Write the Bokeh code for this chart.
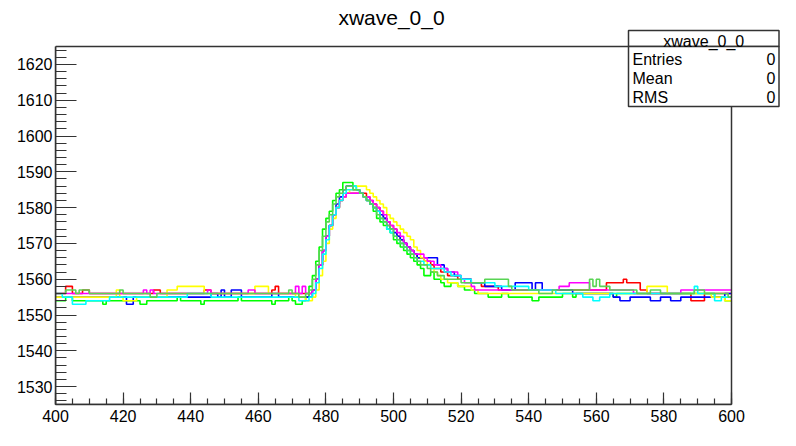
from bokeh.plotting import figure
from bokeh.models import Range1d, SingleIntervalTicker, Label, BoxAnnotation
from bokeh.embed import file_html
from bokeh.resources import INLINE

# ---- data: one value per 1-unit bin, bins start at 400 ... 599 ----
x_start = 400
x_end = 600
y_low = 1525
y_high = 1625

red = [
    1556,1556,1556,1558,1558,1556,1556,1556,1557,1557,
    1556,1556,1556,1556,1556,1556,1556,1556,1556,1556,
    1556,1556,1556,1556,1556,1556,1556,1556,1556,1557,
    1557,1556,1556,1556,1556,1556,1556,1556,1556,1556,
    1556,1556,1556,1556,1557,1557,1556,1556,1556,1556,
    1556,1556,1556,1556,1556,1556,1556,1556,1556,1556,
    1556,1556,1556,1556,1557,1558,1556,1556,1556,1556,
    1556,1556,1556,1556,1556,1556,1557,1560,1564,1568,
    1572,1575,1578,1580,1582,1583,1584,1584,1584,1584,
    1584,1584,1583,1582,1581,1580,1579,1577,1576,1575,
    1574,1572,1571,1570,1569,1568,1567,1566,1566,1565,
    1565,1564,1563,1563,1562,1562,1561,1561,1561,1560,
    1560,1560,1560,1559,1559,1559,1558,1558,1558,1558,
    1558,1557,1557,1557,1557,1557,1557,1557,1557,1557,
    1557,1557,1557,1557,1557,1557,1557,1557,1557,1557,
    1557,1557,1557,1557,1557,1557,1557,1557,1557,1557,
    1557,1557,1557,1559,1559,1559,1559,1559,1560,1559,
    1559,1559,1559,1557,1557,1556,1556,1556,1556,1556,
    1556,1556,1556,1556,1556,1556,1556,1556,1554,1554,
    1554,1554,1556,1556,1556,1556,1556,1556,1556,1556,
]

green = [
    1554,1554,1554,1555,1555,1554,1554,1554,1554,1554,
    1554,1554,1554,1554,1553,1554,1554,1554,1554,1554,
    1554,1554,1554,1554,1554,1553,1553,1554,1554,1554,
    1554,1554,1554,1554,1554,1554,1555,1554,1554,1554,
    1554,1554,1554,1553,1554,1554,1554,1554,1554,1554,
    1554,1554,1554,1554,1555,1554,1554,1554,1554,1554,
    1554,1554,1554,1554,1553,1554,1554,1554,1554,1555,
    1554,1553,1553,1554,1555,1558,1561,1565,1569,1574,
    1577,1579,1582,1584,1585,1587,1587,1587,1586,1585,
    1584,1583,1582,1581,1579,1577,1576,1575,1574,1573,
    1571,1570,1569,1568,1567,1566,1565,1564,1563,1561,
    1561,1562,1560,1560,1559,1558,1558,1559,1559,1558,
    1558,1557,1557,1557,1556,1556,1556,1556,1555,1555,
    1555,1555,1556,1556,1555,1555,1555,1555,1555,1555,
    1555,1554,1554,1555,1555,1555,1555,1555,1555,1555,
    1556,1556,1556,1555,1556,1556,1556,1556,1556,1556,
    1556,1556,1556,1556,1556,1555,1556,1556,1556,1556,
    1556,1556,1556,1556,1556,1556,1556,1556,1556,1556,
    1556,1556,1556,1556,1556,1556,1556,1556,1556,1556,
    1556,1556,1556,1556,1556,1555,1555,1555,1554,1554,
]

blue = [
    1555,1555,1555,1555,1555,1555,1555,1555,1555,1555,
    1555,1555,1555,1555,1555,1555,1555,1555,1555,1555,
    1555,1553,1553,1555,1555,1555,1555,1555,1555,1555,
    1555,1555,1555,1555,1555,1555,1555,1555,1555,1555,
    1555,1555,1555,1555,1555,1555,1556,1556,1555,1557,
    1555,1555,1557,1557,1557,1555,1555,1555,1555,1555,
    1555,1555,1555,1555,1556,1556,1555,1555,1555,1555,
    1555,1555,1555,1555,1555,1555,1557,1560,1564,1568,
    1572,1575,1578,1581,1583,1585,1586,1586,1585,1585,
    1584,1583,1582,1581,1580,1579,1578,1577,1575,1574,
    1573,1572,1571,1570,1569,1568,1567,1566,1566,1566,
    1566,1566,1566,1564,1564,1563,1562,1562,1561,1561,
    1560,1560,1560,1559,1559,1559,1559,1558,1558,1558,
    1558,1558,1557,1557,1557,1557,1559,1559,1559,1559,
    1559,1557,1559,1559,1557,1557,1557,1557,1557,1557,
    1557,1557,1557,1556,1556,1556,1556,1556,1556,1556,
    1556,1556,1556,1556,1556,1555,1555,1554,1554,1554,
    1555,1555,1555,1555,1555,1555,1554,1554,1554,1555,
    1555,1555,1554,1554,1554,1555,1555,1555,1555,1555,
    1555,1555,1555,1555,1555,1555,1555,1555,1556,1556,
]

yellow = [
    1555,1555,1555,1555,1555,1555,1555,1555,1555,1555,
    1555,1555,1555,1555,1555,1555,1555,1555,1557,1555,
    1554,1554,1554,1554,1555,1555,1555,1555,1555,1555,
    1555,1555,1555,1557,1557,1557,1558,1558,1558,1558,
    1558,1558,1558,1558,1556,1556,1556,1556,1556,1556,
    1556,1556,1556,1556,1556,1556,1556,1556,1556,1558,
    1558,1558,1558,1556,1556,1556,1556,1556,1556,1556,
    1556,1555,1555,1555,1554,1554,1555,1557,1561,1565,
    1570,1574,1577,1580,1582,1583,1584,1585,1585,1586,
    1586,1586,1585,1584,1583,1582,1581,1580,1578,1577,
    1576,1575,1574,1573,1572,1571,1569,1568,1566,1565,
    1564,1563,1562,1561,1560,1560,1559,1559,1559,1558,
    1558,1558,1558,1557,1557,1556,1556,1556,1556,1556,
    1556,1556,1556,1556,1556,1556,1556,1556,1556,1556,
    1556,1556,1556,1556,1556,1556,1556,1556,1556,1556,
    1556,1556,1556,1556,1556,1556,1556,1556,1556,1556,
    1556,1556,1556,1556,1556,1556,1556,1556,1556,1556,
    1556,1556,1556,1556,1556,1558,1558,1558,1558,1558,
    1558,1556,1556,1556,1556,1556,1556,1556,1556,1556,
    1556,1556,1556,1556,1555,1555,1555,1555,1554,1554,
]

magenta = [
    1556,1556,1556,1556,1556,1556,1556,1556,1556,1556,
    1556,1556,1556,1556,1556,1556,1556,1556,1556,1556,
    1556,1556,1556,1556,1556,1556,1557,1556,1557,1556,
    1556,1556,1556,1556,1556,1556,1556,1556,1556,1556,
    1556,1556,1556,1556,1556,1557,1556,1556,1556,1556,
    1556,1556,1556,1556,1556,1556,1556,1557,1557,1556,
    1556,1556,1556,1556,1556,1556,1556,1556,1556,1556,
    1556,1558,1556,1558,1556,1556,1557,1560,1564,1568,
    1572,1575,1578,1580,1582,1583,1584,1584,1584,1584,
    1584,1583,1583,1582,1581,1580,1579,1578,1576,1575,
    1574,1573,1572,1570,1569,1568,1567,1567,1567,1566,
    1565,1565,1564,1564,1563,1563,1562,1562,1562,1561,
    1560,1559,1559,1558,1557,1557,1557,1557,1557,1557,
    1557,1557,1557,1557,1557,1557,1557,1557,1557,1557,
    1557,1557,1557,1557,1557,1557,1557,1557,1557,1558,
    1558,1558,1559,1559,1559,1559,1559,1559,1557,1557,
    1557,1557,1557,1557,1557,1557,1557,1557,1557,1557,
    1557,1556,1556,1556,1556,1556,1556,1556,1556,1556,
    1556,1556,1556,1556,1556,1557,1557,1557,1557,1557,
    1557,1557,1557,1557,1557,1557,1557,1557,1557,1557,
]

cyan = [
    1556,1556,1555,1555,1555,1553,1553,1553,1553,1554,
    1554,1554,1554,1554,1554,1554,1555,1555,1555,1555,
    1555,1555,1555,1555,1555,1555,1555,1555,1555,1555,
    1555,1555,1555,1555,1555,1555,1555,1555,1555,1556,
    1556,1556,1556,1556,1556,1556,1555,1555,1555,1555,
    1555,1555,1555,1555,1555,1555,1555,1555,1555,1555,
    1555,1555,1555,1555,1555,1555,1555,1555,1555,1555,
    1555,1555,1554,1554,1554,1555,1556,1559,1563,1567,
    1571,1575,1578,1580,1582,1584,1585,1585,1586,1585,
    1584,1583,1582,1581,1580,1579,1577,1576,1574,1573,
    1572,1571,1570,1569,1568,1567,1566,1565,1565,1564,
    1564,1563,1563,1563,1563,1562,1562,1561,1561,1561,
    1560,1560,1560,1559,1559,1559,1559,1559,1559,1559,
    1558,1558,1558,1558,1558,1558,1558,1558,1558,1558,
    1557,1557,1557,1557,1557,1557,1557,1557,1556,1556,
    1556,1556,1556,1556,1556,1556,1555,1555,1555,1554,
    1554,1555,1555,1555,1556,1556,1556,1556,1556,1556,
    1556,1556,1556,1556,1556,1556,1556,1556,1556,1556,
    1556,1556,1556,1556,1556,1556,1556,1556,1556,1558,
    1556,1556,1556,1556,1556,1554,1554,1555,1555,1555,
]

olive_green = [
    1556,1556,1556,1557,1557,1557,1556,1557,1557,1557,
    1556,1556,1556,1556,1556,1556,1556,1556,1556,1557,
    1556,1556,1556,1556,1556,1556,1556,1556,1555,1555,
    1556,1556,1556,1556,1556,1556,1556,1556,1556,1556,
    1556,1556,1556,1556,1556,1556,1556,1556,1556,1556,
    1556,1556,1556,1556,1556,1556,1556,1556,1556,1556,
    1556,1556,1556,1556,1556,1556,1556,1556,1556,1557,
    1556,1556,1555,1555,1556,1557,1560,1564,1568,1572,
    1576,1578,1581,1583,1584,1585,1586,1586,1585,1585,
    1584,1583,1582,1581,1580,1578,1577,1576,1575,1574,
    1572,1571,1570,1569,1568,1567,1566,1565,1564,1564,
    1563,1562,1562,1561,1561,1560,1560,1560,1560,1560,
    1559,1559,1559,1559,1559,1559,1559,1560,1560,1560,
    1560,1560,1560,1560,1558,1557,1557,1557,1557,1557,
    1557,1557,1557,1556,1556,1556,1556,1557,1557,1557,
    1557,1557,1557,1557,1557,1557,1557,1557,1560,1558,
    1560,1558,1558,1558,1557,1557,1557,1557,1557,1557,
    1557,1557,1556,1556,1556,1556,1557,1557,1557,1556,
    1556,1556,1556,1556,1556,1556,1556,1556,1556,1557,
    1557,1557,1556,1556,1556,1556,1556,1556,1556,1555,
]

series = [
    (red, "#ff0000"),
    (green, "#00ff00"),
    (blue, "#0000ff"),
    (yellow, "#ffff00"),
    (magenta, "#ff00ff"),
    (cyan, "#00ffff"),
    (olive_green, "#59d454"),
]

hist_name = "xwave_0_0"
stat_names = ["Entries", "Mean", "RMS"]
stat_values = ["0", "0", "0"]

# ---- layout (pixels) ----
W, H = 780, 430
FONT = "Liberation Sans"
left_border = 55
bottom_border = 26
frame_px_w = W - left_border          # frame fills to the right edge
frame_px_h = H - bottom_border        # frame fills to the top edge
hist_right_px = 731 - left_border     # histogram frame right edge, from frame left
hist_top_px = 46                      # histogram frame top, from canvas top

ppx = hist_right_px / (x_end - x_start)
ppy = (frame_px_h - hist_top_px) / (y_high - y_low)
x_max = x_start + frame_px_w / ppx
y_max = y_low + frame_px_h / ppy


def dx(px):  # canvas x pixel -> data x
    return x_start + (px - left_border) / ppx


def dy(py):  # canvas y pixel (from top) -> data y
    return y_low + (frame_px_h - py) / ppy


p = figure(width=W, height=H, x_range=Range1d(x_start, x_max), y_range=Range1d(y_low, y_max),
           output_backend="svg", toolbar_location=None,
           min_border_left=left_border, min_border_right=0, min_border_top=0,
           min_border_bottom=bottom_border)
p.title.visible = False
p.grid.visible = False
p.background_fill_color = "white"
p.border_fill_color = "white"
p.outline_line_color = None

p.xaxis.ticker = SingleIntervalTicker(interval=20, num_minor_ticks=4)
p.yaxis.ticker = SingleIntervalTicker(interval=10, num_minor_ticks=5)
p.xaxis.bounds = (x_start, x_end)
p.yaxis.bounds = (y_low, y_high)
for ax in (p.xaxis, p.yaxis):
    ax.axis_line_color = "#333333"
    ax.axis_line_width = 1.5
    ax.major_tick_line_color = "#333333"
    ax.minor_tick_line_color = "#333333"
    ax.major_tick_line_width = 1.2
    ax.minor_tick_line_width = 1.2
    ax.major_tick_out = 0
    ax.minor_tick_out = 0
    ax.major_label_text_font = FONT
    ax.major_label_text_font_size = "16px"
    ax.major_label_text_color = "black"
p.yaxis.major_tick_in = 21
p.yaxis.minor_tick_in = 11
p.yaxis.major_label_standoff = 3
p.xaxis.major_tick_in = 12
p.xaxis.minor_tick_in = 6
p.xaxis.major_label_standoff = 5

for vals, col in series:
    xs = list(range(x_start, x_end + 1))
    ys = list(vals) + [vals[-1]]
    p.step(xs, ys, mode="after", line_color=col, line_width=1.6)

# histogram frame
p.add_layout(BoxAnnotation(left=x_start, right=x_end, bottom=y_low, top=y_high,
                           fill_color=None, fill_alpha=0, line_color="#333333", line_alpha=1,
                           line_width=1.5, level="overlay"))

# title
p.add_layout(Label(x=dx(391), y=dy(17), text=hist_name,
                   text_align="center", text_baseline="alphabetic",
                   text_font=FONT, text_font_size="21px", text_color="black"))

# stats box
bl, br = dx(628), dx(W - 1.5)
bt, bs, bb = dy(30), y_high, dy(106)
for top, bottom in ((bt, bs), (bs, bb)):
    p.add_layout(BoxAnnotation(left=bl, right=br, top=top, bottom=bottom,
                               fill_color="white", fill_alpha=1, line_color="#333333",
                               line_alpha=1, line_width=1.5, level="overlay"))
p.add_layout(Label(x=(bl + br) / 2, y=dy(40.5), text=hist_name,
                   text_align="center", text_baseline="alphabetic",
                   text_font=FONT, text_font_size="16px", text_color="black", level="overlay"))
row_base = [58.5, 77.5, 96.5]
for nm, vv, yb in zip(stat_names, stat_values, row_base):
    p.add_layout(Label(x=dx(632), y=dy(yb), text=nm,
                       text_align="left", text_baseline="alphabetic",
                       text_font=FONT, text_font_size="16px", text_color="black", level="overlay"))
    p.add_layout(Label(x=dx(W - 5), y=dy(yb), text=vv,
                       text_align="right", text_baseline="alphabetic",
                       text_font=FONT, text_font_size="16px", text_color="black", level="overlay"))

open("out.html", "w").write(file_html(p, INLINE))
